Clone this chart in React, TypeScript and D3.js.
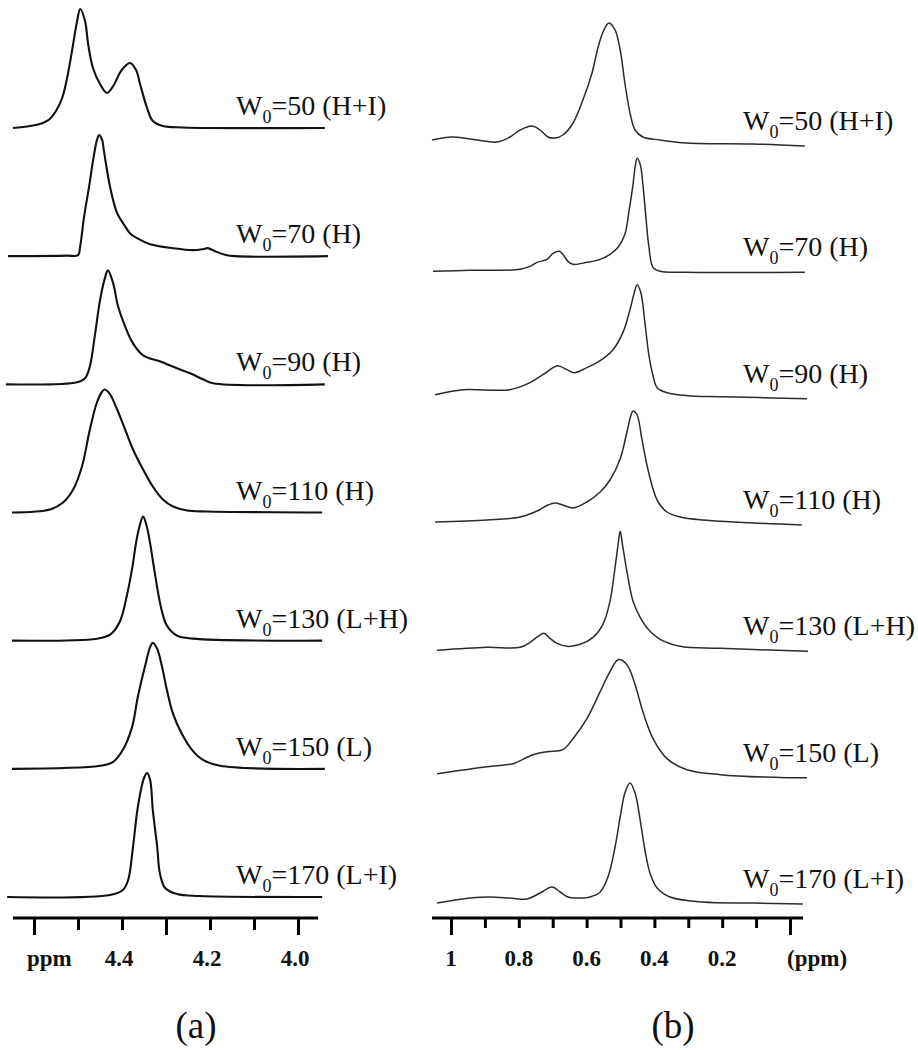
import React, { useEffect, useRef } from "react";
import * as d3 from "d3";

type Pt = [number, number]; // [ppm, intensity]

// row labels (W0 value + phase)
const labelsA = ["50 (H+I)", "70 (H)", "90 (H)", "110 (H)", "130 (L+H)", "150 (L)", "170 (L+I)"];
const labelsB = ["50 (H+I)", "70 (H)", "90 (H)", "110 (H)", "130 (L+H)", "150 (L)", "170 (L+I)"];

// axis ticks
const ticksA = [4.6, 4.5, 4.4, 4.3, 4.2, 4.1, 4.0];
const majorTicksA = [4.6, 4.3, 4.0];
const tickLabelsA = [4.4, 4.2, 4.0];
const ticksB = [1.0, 0.9, 0.8, 0.7, 0.6, 0.5, 0.4, 0.3, 0.2, 0.1, 0.0];
const majorTicksB = [1.0, 0.0];
const tickLabelsB = [1, 0.8, 0.6, 0.4, 0.2];

// (a) spectra
const a50: Pt[] = [[4.648, 0], [4.609, 2], [4.58, 5], [4.564, 9], [4.55, 17], [4.536, 30], [4.523, 54], [4.511, 84], [4.502, 107], [4.495, 119], [4.484, 107], [4.477, 84], [4.466, 60], [4.45, 44], [4.434, 35], [4.42, 42], [4.405, 55], [4.395, 61], [4.382, 65], [4.368, 58], [4.359, 44], [4.343, 20], [4.33, 7], [4.307, 2], [4.261, 0.5], [3.939, 0]];
const a70: Pt[] = [[4.659, 0], [4.525, 0.5], [4.5, 1], [4.495, 10], [4.486, 40], [4.475, 69], [4.466, 95], [4.457, 116], [4.452, 121], [4.445, 116], [4.441, 105], [4.427, 69], [4.411, 43], [4.393, 30], [4.382, 23], [4.366, 18], [4.336, 12], [4.284, 8], [4.239, 6], [4.216, 7], [4.205, 8], [4.189, 5], [4.166, 1.5], [4.143, 0], [3.932, 0]];
const a90: Pt[] = [[4.664, 0], [4.502, 2], [4.484, 6], [4.473, 18], [4.461, 51], [4.45, 84], [4.439, 106], [4.432, 114], [4.42, 101], [4.409, 78], [4.393, 58], [4.375, 41], [4.352, 29], [4.314, 23], [4.275, 16], [4.245, 11], [4.216, 5], [4.193, 1], [3.939, 0]];
const a110: Pt[] = [[4.65, 0], [4.564, 3], [4.534, 10], [4.511, 23], [4.491, 46], [4.473, 83], [4.457, 110], [4.445, 121], [4.439, 123], [4.427, 118], [4.411, 103], [4.393, 83], [4.375, 63], [4.352, 43], [4.33, 26], [4.307, 13], [4.284, 6], [4.252, 2], [4.207, 1], [3.945, 0]];
const a130: Pt[] = [[4.65, 0], [4.457, 2], [4.427, 6], [4.405, 19], [4.389, 45], [4.377, 72], [4.368, 98], [4.361, 113], [4.352, 124], [4.343, 113], [4.336, 97], [4.327, 72], [4.318, 48], [4.309, 29], [4.298, 15], [4.275, 5], [4.239, 2], [3.945, 0]];
const a150: Pt[] = [[4.65, 0], [4.45, 3], [4.42, 7], [4.398, 19], [4.377, 42], [4.364, 72], [4.348, 102], [4.336, 122], [4.33, 126], [4.32, 120], [4.309, 102], [4.298, 79], [4.284, 55], [4.264, 35], [4.241, 19], [4.216, 9], [4.177, 3], [3.939, 0]];
const a170: Pt[] = [[4.661, 0], [4.427, 2], [4.398, 7], [4.386, 17], [4.375, 50], [4.366, 84], [4.357, 107], [4.35, 119], [4.343, 124], [4.336, 117], [4.33, 87], [4.32, 50], [4.314, 24], [4.302, 9], [4.275, 3], [4.223, 1], [3.945, 0]];

// (b) spectra
const b50: Pt[] = [[1.056, 6], [0.997, 9], [0.944, 7], [0.864, 4], [0.826, 9], [0.796, 16], [0.761, 20], [0.737, 16], [0.714, 9], [0.693, 8], [0.67, 11], [0.64, 23], [0.611, 46], [0.584, 73], [0.566, 99], [0.549, 116], [0.534, 123], [0.516, 116], [0.501, 96], [0.487, 63], [0.472, 33], [0.457, 16], [0.434, 9], [0.383, 6], [0.304, 3], [0.109, 2], [-0.044, 0]];
const b70: Pt[] = [[1.053, 1], [0.944, 2], [0.796, 3], [0.767, 6], [0.746, 10], [0.717, 13], [0.699, 19], [0.681, 21], [0.67, 18], [0.655, 11], [0.64, 8], [0.599, 10], [0.56, 13], [0.531, 18], [0.507, 25], [0.487, 38], [0.475, 61], [0.463, 88], [0.457, 105], [0.451, 114], [0.442, 108], [0.434, 88], [0.425, 55], [0.416, 25], [0.404, 5], [0.383, 1], [0.304, 0], [-0.044, 0]];
const b90: Pt[] = [[1.047, 4], [0.965, 9], [0.826, 9], [0.767, 16], [0.729, 24], [0.699, 31], [0.684, 33], [0.658, 29], [0.637, 26], [0.599, 31], [0.56, 38], [0.522, 49], [0.493, 66], [0.472, 89], [0.457, 109], [0.451, 114], [0.44, 106], [0.428, 76], [0.416, 43], [0.404, 23], [0.392, 11], [0.363, 6], [0.304, 3], [0.206, 2], [-0.05, 0]];
const b110: Pt[] = [[1.047, 3], [0.894, 5], [0.796, 8], [0.746, 14], [0.714, 20], [0.693, 22], [0.67, 20], [0.64, 17], [0.599, 23], [0.56, 33], [0.531, 45], [0.501, 66], [0.481, 93], [0.469, 110], [0.463, 114], [0.451, 110], [0.437, 86], [0.422, 60], [0.404, 36], [0.389, 23], [0.363, 13], [0.324, 8], [0.257, 5], [-0.035, 0]];
const b130: Pt[] = [[1.041, 1], [0.894, 4], [0.796, 4], [0.767, 9], [0.743, 15], [0.726, 18], [0.708, 13], [0.687, 8], [0.658, 5], [0.619, 7], [0.581, 14], [0.552, 27], [0.531, 50], [0.516, 84], [0.507, 107], [0.501, 120], [0.493, 104], [0.478, 74], [0.463, 50], [0.442, 34], [0.413, 20], [0.383, 12], [0.324, 5], [0.206, 3], [-0.053, 0]];
const b150: Pt[] = [[1.041, 4], [0.894, 11], [0.817, 14], [0.758, 23], [0.717, 26], [0.67, 28], [0.64, 39], [0.599, 59], [0.56, 86], [0.531, 106], [0.507, 118], [0.481, 113], [0.457, 93], [0.434, 66], [0.404, 39], [0.363, 19], [0.304, 8], [0.206, 3], [0.009, 0], [-0.05, 0]];
const b170: Pt[] = [[1.041, 1], [0.944, 6], [0.885, 7], [0.826, 6], [0.776, 5], [0.737, 11], [0.702, 17], [0.678, 12], [0.655, 7], [0.628, 6], [0.59, 7], [0.56, 12], [0.537, 27], [0.516, 57], [0.501, 87], [0.487, 111], [0.472, 121], [0.457, 111], [0.442, 84], [0.428, 54], [0.413, 31], [0.392, 16], [0.354, 7], [0.257, 2], [0.109, 1], [-0.038, 0]];

const spectraA = [a50, a70, a90, a110, a130, a150, a170];
const spectraB = [b50, b70, b90, b110, b130, b150, b170];

const SERIF = "'Liberation Serif', 'Times New Roman', serif";

function App() {
    const svgRef = useRef<SVGSVGElement>(null);

    useEffect(() => {
        const width = 918;
        const height = 1050;
        const axisY = 918;

        const svg = d3.select(svgRef.current);
        svg.selectAll("*").remove();
        svg.attr("width", width).attr("height", height);

        svg.append("rect").attr("width", width).attr("height", height).attr("fill", "#fff");

        // scales (ppm runs right to left)
        const xA = d3.scaleLinear().domain([4.6, 4.0]).range([34, 298]);
        const xB = d3.scaleLinear().domain([1.0, 0.0]).range([451, 790]);
        const rowA = d3.scalePoint<number>().domain(d3.range(labelsA.length)).range([128, 897]);
        const rowB = d3.scalePoint<number>().domain(d3.range(labelsB.length)).range([146, 904]);
        const yH = d3.scaleLinear().domain([0, 125]).range([0, 125]);

        const panels = [
            { x: xA, row: rowA, spectra: spectraA, labels: labelsA, labelX: 236, labelDy: -13, stroke: "#111", sw: 2.1 },
            { x: xB, row: rowB, spectra: spectraB, labels: labelsB, labelX: 743, labelDy: -16, stroke: "#2b2b2b", sw: 1.5 },
        ];

        panels.forEach((p) => {
            const g = svg.append("g");
            p.spectra.forEach((data, i) => {
                const base = p.row(i) as number;
                const line = d3
                    .line<Pt>()
                    .x((d) => p.x(d[0]))
                    .y((d) => base - yH(d[1]))
                    .curve(d3.curveCatmullRom.alpha(0.5));

                g.append("path")
                    .datum(data)
                    .attr("d", line)
                    .attr("fill", "none")
                    .attr("stroke", p.stroke)
                    .attr("stroke-width", p.sw)
                    .attr("stroke-linejoin", "round");

                const t = g
                    .append("text")
                    .attr("x", p.labelX)
                    .attr("y", base + p.labelDy)
                    .style("font-family", SERIF)
                    .style("font-size", "28px")
                    .attr("fill", "#111");
                t.append("tspan").text("W");
                t.append("tspan").attr("dy", 8).style("font-size", "18px").text("0");
                t.append("tspan").attr("dy", -8).text("=" + p.labels[i]);
            });
        });

        // axes
        const drawAxis = (
            x: d3.ScaleLinear<number, number>,
            minor: number[],
            major: number[],
            x0: number,
            x1: number,
            minorLen: number
        ) => {
            const g = svg.append("g");
            g.append("line")
                .attr("x1", x0)
                .attr("x2", x1)
                .attr("y1", axisY)
                .attr("y2", axisY)
                .attr("stroke", "#000")
                .attr("stroke-width", 3);

            const minorAxis = d3
                .axisBottom(x)
                .tickValues(minor.filter((v) => !major.includes(v)))
                .tickSize(minorLen)
                .tickSizeOuter(0)
                .tickFormat(() => "");
            const majorAxis = d3
                .axisBottom(x)
                .tickValues(major)
                .tickSize(17)
                .tickSizeOuter(0)
                .tickFormat(() => "");

            [minorAxis, majorAxis].forEach((ax) => {
                const a = g.append("g").attr("transform", `translate(0,${axisY})`).call(ax);
                a.select(".domain").remove();
                a.selectAll(".tick line").attr("stroke", "#000").attr("stroke-width", 3);
            });
        };

        drawAxis(xA, ticksA, majorTicksA, 13, 318, 12);
        drawAxis(xB, ticksB, majorTicksB, 432, 803, 10);

        const tickText = (x: number, label: string, anchor = "middle") =>
            svg
                .append("text")
                .attr("x", x)
                .attr("y", 966)
                .attr("text-anchor", anchor)
                .style("font-family", SERIF)
                .style("font-weight", "bold")
                .style("font-size", "23px")
                .attr("fill", "#111")
                .text(label);

        tickLabelsA.forEach((v) => tickText(xA(v) - 3, d3.format(".1f")(v)));
        tickText(xA(4.6) - 7, "ppm", "start");
        tickLabelsB.forEach((v) => tickText(xB(v), v === 1 ? "1" : d3.format(".1f")(v)));
        tickText(xB(0) - 3, "(ppm)", "start");

        // panel captions
        [
            { x: 196, t: "(a)" },
            { x: 673, t: "(b)" },
        ].forEach((c) =>
            svg
                .append("text")
                .attr("x", c.x)
                .attr("y", 1038)
                .attr("text-anchor", "middle")
                .style("font-family", SERIF)
                .style("font-size", "37px")
                .attr("fill", "#111")
                .text(c.t)
        );
    }, []);

    return (
        <svg
            ref={svgRef}
            style={{ position: "absolute", left: 0, top: 0, display: "block" }}
        />
    );
}

export default App;
